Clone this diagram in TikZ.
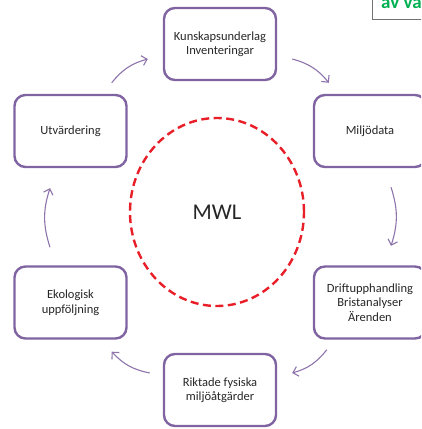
\documentclass[tikz,border=0pt]{standalone}
\usepackage{fontspec}
\setmainfont{Carlito}
\usetikzlibrary{arrows.meta,shapes.geometric}
\definecolor{boxpurple}{RGB}{128,100,162}
\definecolor{mwlred}{RGB}{232,30,40}
\definecolor{notegreen}{RGB}{0,176,80}

\begin{document}
\begin{tikzpicture}[x=1pt,y=1pt,
  stepbox/.style={draw=boxpurple,line width=2.4pt,rounded corners=11pt,minimum width=112pt,minimum height=72pt,align=center,text=black!85,font=\fontsize{12.5}{14.5}\selectfont},
  flow/.style={draw=boxpurple!90,line width=1.1pt,-{Straight Barb[length=5pt,width=10pt]},bend left=18},
  mwlring/.style={draw=mwlred,ellipse,line width=2.4pt,dash pattern=on 8pt off 4.5pt,minimum width=174pt,minimum height=188pt,text=black!85,font=\fontsize{22.5}{27}\selectfont}]
\useasboundingbox (0,0) rectangle (421,429);
\clip (0,0) rectangle (421,429);
% the cycle
\node[stepbox] (kun) at (220,385) {Kunskapsunderlag\\Inventeringar};
\node[stepbox] (milj) at (370,298) {Miljödata};
\node[stepbox] (drift) at (370,126.5) {Driftupphandling\\Bristanalyser\\Ärenden};
\node[stepbox] (rikt) at (220,39) {Riktade fysiska\\miljöåtgärder};
\node[stepbox] (eko) at (70.5,126.5) {Ekologisk\\uppföljning};
\node[stepbox] (utv) at (70.5,298) {Utvärdering};
\node[mwlring] (mwl) at (217,217) {MWL};
% arrows between the steps
\draw[flow] ([shift={(-16,11)}]utv.north east) to ([shift={(-15,-15)}]kun.west);
\draw[flow] ([shift={(15,-15)}]kun.east) to ([shift={(16,11)}]milj.north west);
\draw[flow] ([shift={(21,-19)}]milj.south) to ([shift={(21,19.5)}]drift.north);
\draw[flow] ([shift={(14,-10)}]drift.south west) to ([shift={(15,17)}]rikt.east);
\draw[flow] ([shift={(-13,17)}]rikt.west) to ([shift={(-16,-12)}]eko.south east);
\draw[flow] ([shift={(-20.5,18)}]eko.north) to ([shift={(-20.5,-20)}]utv.south);
% cut-off note, top right
\draw[black!55,line width=0.8pt] (372,440) |- (440,410);
\node[anchor=base west,inner sep=0pt,text=notegreen,font=\bfseries\fontsize{19}{19}\selectfont] (note) at (381,420) {av va};
\end{tikzpicture}
\end{document}
